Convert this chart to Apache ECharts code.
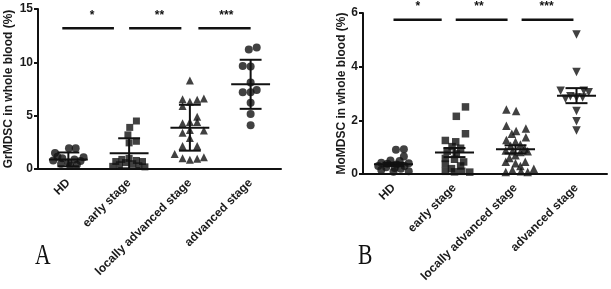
<!DOCTYPE html>
<html>
<head>
<meta charset="utf-8">
<script src="https://cdn.jsdelivr.net/npm/echarts@6/dist/echarts.min.js"></script>
<style>
html,body{margin:0;padding:0;background:#fff;}
#chart{width:611px;height:289px;}
</style>
</head>
<body>
<div id="chart"></div>
<script>
// ---- Data ----
const categories = ['HD', 'early stage', 'locally advanced stage', 'advanced stage'];

// Panel A: GrMDSC in whole blood (%)  -- values and horizontal jitter (category units)
const grHD = [1.95, 1.95, 1.5, 1.15, 1.1, 1.0, 0.9, 0.8, 0.75, 0.6, 0.5, 0.4, 0.3];
const grHDJit = [0.01, 0.12, -0.22, -0.18, 0.25, -0.1, 0.1, -0.25, 0.2, 0, -0.12, 0.14, 0.03];
const grEarly = [4.5, 3.9, 3.2, 2.6, 2.45, 1.0, 0.9, 0.8, 0.7, 0.7, 0.6, 0.5, 0.4, 0.3, 0.25, 0.2];
const grEarlyJit = [0.12, 0.01, -0.02, 0.12, 0, 0, -0.12, 0.12, -0.22, 0.22, -0.06, 0.06, -0.16, 0.16, -0.27, 0.26];
const grLocal = [8.3, 6.55, 6.3, 6.5, 6.6, 5.9, 4.9, 4.3, 4.4, 4.4, 3.4, 3.65, 3.6, 2.9, 2.15, 2.15, 1.4, 1.0, 0.87, 0.97, 1.1];
const grLocalJit = [0, -0.12, 0, 0.12, 0.23, -0.12, 0.12, -0.12, 0, 0.12, -0.12, 0, 0.23, 0, -0.12, 0.12, -0.25, -0.12, 0, 0.12, 0.23];
const grAdv = [11.2, 11.4, 9.65, 9.6, 8.1, 7.2, 7.2, 7.4, 6.2, 5.15, 4.1];
const grAdvJit = [-0.03, 0.1, -0.13, 0, 0, -0.13, 0, 0.1, 0, 0, 0];
const grMean = [0.9, 1.47, 3.87, 7.94];
const grSD = [0.65, 1.41, 2.15, 2.3];

// Panel B: MoMDSC in whole blood (%)
const moHD = [0.9, 0.92, 0.65, 0.5, 0.48, 0.42, 0.4, 0.38, 0.35, 0.3, 0.3, 0.25, 0.22, 0.2, 0.15, 0.1, 0.08];
const moHDJit = [0.04, 0.17, 0.17, -0.05, 0.1, -0.2, 0.25, -0.1, 0.05, -0.25, 0.18, -0.12, 0.02, 0.12, -0.2, 0.25, 0];
const moEarly = [2.5, 2.15, 1.5, 1.25, 1.2, 1.02, 0.96, 0.85, 0.75, 0.58, 0.55, 0.45, 0.37, 0.3, 0.2, 0.1, 0.08, 0.1, 0.07];
const moEarlyJit = [0.18, 0.03, 0.18, -0.15, 0.02, -0.04, 0.1, -0.12, 0.03, -0.15, 0, 0.15, -0.15, 0.1, -0.05, -0.15, 0, 0.12, 0.25];
const moLocal = [2.4, 2.35, 1.8, 1.7, 1.6, 1.5, 1.37, 1.27, 1.2, 1.1, 1.05, 0.95, 0.88, 0.85, 0.82, 0.85, 0.7, 0.6, 0.46, 0.4, 0.46, 0.3, 0.07, 0.15, 0.1, 0.07, 0.2];
const moLocalJit = [-0.15, 0.01, -0.15, 0.17, 0.01, -0.06, 0.17, -0.15, 0, 0.08, -0.08, 0.15, -0.16, -0.05, 0.08, 0.2, 0, -0.1, -0.16, 0, 0.16, 0.08, -0.16, -0.05, 0.09, 0.2, 0.3];
const moAdv = [5.2, 3.8, 3.1, 3.1, 3.05, 2.9, 2.85, 2.85, 2.8, 2.35, 1.97, 1.62];
const moAdvJit = [0, 0, -0.26, 0.12, 0.2, -0.1, 0, 0.1, -0.18, 0, 0, 0];
const moMean = [0.36, 0.8, 0.92, 2.92];
const moErr = [0.06, 0.17, 0.15, 0.28];

// Significance bars: [from, to, height]; stars: [x, height, text]
const grSigBars = [[-0.1, 0.75, 13.2], [1.0, 1.86, 13.2], [2.14, 3.0, 13.2]];
const grStars = [[0.39, 14.4, '*'], [1.5, 14.4, '**'], [2.6, 14.4, '***']];
const moSigBars = [[0.0, 0.79, 5.75], [1.02, 1.87, 5.75], [2.1, 2.95, 5.75]];
const moStars = [[0.4, 6.25, '*'], [1.4, 6.25, '**'], [2.51, 6.25, '***']];

// ---- Chart ----
const INK = '#111';
const SANS = '"Liberation Sans", Arial, sans-serif';
function pts(vals, jit, idx) { return vals.map((v, k) => [idx + jit[k], v]); }

function scatter(vals, jit, idx, xi, yi, symbol, size, rot) {
  return {
    type: 'scatter', xAxisIndex: xi, yAxisIndex: yi,
    data: pts(vals, jit, idx), symbol: symbol, symbolSize: size, symbolRotate: rot || 0,
    itemStyle: { color: INK }, silent: true, z: 3
  };
}

function meanSeries(mean, err, xi, yi) {
  return {
    type: 'custom', xAxisIndex: xi, yAxisIndex: yi, silent: true, z: 4,
    data: mean.map((m, i) => [i, m, err[i]]),
    encode: { x: 0, y: 1 },
    renderItem: function (params, api) {
      const i = api.value(0), m = api.value(1), e = api.value(2);
      const c = (x, y) => api.coord([x, y]);
      const ls = { stroke: INK, lineWidth: 2 };
      const lo = Math.max(m - e, 0);
      const a = c(i - 0.32, m), b = c(i + 0.32, m);
      const t = c(i, m + e), bt = c(i, lo);
      const t1 = c(i - 0.18, m + e), t2 = c(i + 0.18, m + e);
      const b1 = c(i - 0.18, lo), b2 = c(i + 0.18, lo);
      return { type: 'group', children: [
        { type: 'line', shape: { x1: a[0], y1: a[1], x2: b[0], y2: b[1] }, style: ls },
        { type: 'line', shape: { x1: t[0], y1: t[1], x2: bt[0], y2: bt[1] }, style: ls },
        { type: 'line', shape: { x1: t1[0], y1: t1[1], x2: t2[0], y2: t2[1] }, style: ls },
        { type: 'line', shape: { x1: b1[0], y1: b1[1], x2: b2[0], y2: b2[1] }, style: ls }
      ]};
    }
  };
}

function sigSeries(bars, xi, yi) {
  return {
    type: 'custom', xAxisIndex: xi, yAxisIndex: yi, silent: true, clip: false,
    data: bars, encode: { x: [0, 1], y: 2 },
    renderItem: function (params, api) {
      const p1 = api.coord([api.value(0), api.value(2)]);
      const p2 = api.coord([api.value(1), api.value(2)]);
      return { type: 'line', shape: { x1: p1[0], y1: p1[1], x2: p2[0], y2: p2[1] },
               style: { stroke: INK, lineWidth: 2.4 } };
    }
  };
}

function starSeries(stars, xi, yi) {
  return {
    type: 'custom', xAxisIndex: xi, yAxisIndex: yi, silent: true, clip: false,
    data: stars.map(s => [s[0], s[1]]), encode: { x: 0, y: 1 },
    renderItem: function (params, api) {
      const p = api.coord([api.value(0), api.value(1)]);
      return { type: 'text', style: { text: stars[params.dataIndex][2], x: p[0], y: p[1],
               align: 'center', verticalAlign: 'middle', font: 'bold 12px ' + SANS, fill: INK } };
    }
  };
}

function catAxis(gi) {
  return {
    type: 'category', gridIndex: gi, data: categories, boundaryGap: true,
    axisLine: { onZero: false, lineStyle: { color: INK, width: 2 } },
    axisTick: { alignWithLabel: true, length: 5, lineStyle: { color: INK, width: 2 } },
    axisLabel: { rotate: 45, margin: 12, color: '#1a1a1a', fontSize: 12, fontWeight: 'bold',
                 fontFamily: SANS, interval: 0 }
  };
}
function valXAxis(gi) {
  return { type: 'value', gridIndex: gi, min: -0.5, max: 3.5, show: false };
}
function valYAxis(gi, max, interval, name, gap) {
  return {
    type: 'value', gridIndex: gi, min: 0, max: max, interval: interval,
    axisLine: { show: true, onZero: false, lineStyle: { color: INK, width: 2 } },
    axisTick: { show: true, length: 4, lineStyle: { color: INK, width: 2 } },
    splitLine: { show: false },
    axisLabel: { color: '#1a1a1a', fontSize: 12, fontWeight: 'bold', margin: 5, fontFamily: SANS },
    name: name, nameLocation: 'middle', nameGap: gap,
    nameTextStyle: { color: '#1a1a1a', fontSize: 12, fontWeight: 'bold', fontFamily: SANS }
  };
}

const chart = echarts.init(document.getElementById('chart'), null, { renderer: 'canvas' });
chart.setOption({
  animation: false,
  backgroundColor: '#fff',
  grid: [
    { left: 38, top: 9, width: 243, height: 160 },
    { left: 363, top: 13, width: 244, height: 161 }
  ],
  xAxis: [catAxis(0), valXAxis(0), catAxis(1), valXAxis(1)],
  yAxis: [
    valYAxis(0, 15, 5, 'GrMDSC in whole blood (%)', 23),
    valYAxis(1, 6, 2, 'MoMDSC in whole blood (%)', 15)
  ],
  series: [
    scatter(grHD, grHDJit, 0, 1, 0, 'circle', 8),
    scatter(grEarly, grEarlyJit, 1, 1, 0, 'rect', 7),
    scatter(grLocal, grLocalJit, 2, 1, 0, 'triangle', 8),
    scatter(grAdv, grAdvJit, 3, 1, 0, 'circle', 8),
    meanSeries(grMean, grSD, 1, 0),
    sigSeries(grSigBars, 1, 0),
    starSeries(grStars, 1, 0),
    scatter(moHD, moHDJit, 0, 3, 1, 'circle', 8),
    scatter(moEarly, moEarlyJit, 1, 3, 1, 'rect', 7.5),
    scatter(moLocal, moLocalJit, 2, 3, 1, 'triangle', 8.5),
    scatter(moAdv, moAdvJit, 3, 3, 1, 'triangle', 8.5, 180),
    meanSeries(moMean, moErr, 3, 1),
    sigSeries(moSigBars, 3, 1),
    starSeries(moStars, 3, 1)
  ],
  graphic: [
    { type: 'text', x: 35, y: 241, scaleX: 0.72, silent: true,
      style: { text: 'A', font: '30px "Liberation Serif", "DejaVu Serif", serif', fill: INK } },
    { type: 'text', x: 358, y: 241, scaleX: 0.72, silent: true,
      style: { text: 'B', font: '30px "Liberation Serif", "DejaVu Serif", serif', fill: INK } }
  ]
});
</script>
</body>
</html>
